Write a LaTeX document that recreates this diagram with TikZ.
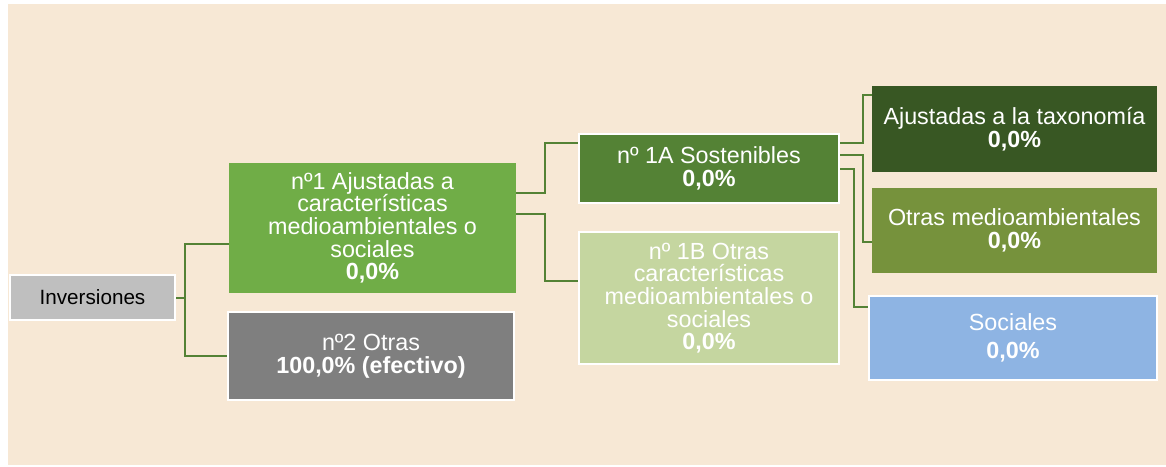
\documentclass[tikz,border=0pt]{standalone}
\usepackage{fontspec}
\setmainfont{Liberation Sans}
\usetikzlibrary{positioning, calc}
\definecolor{beige}{HTML}{F7E8D5}
\definecolor{greyinv}{HTML}{BFBFBF}
\definecolor{greenone}{HTML}{70AD47}
\definecolor{greytwo}{HTML}{7F7F7F}
\definecolor{greenA}{HTML}{548235}
\definecolor{greenB}{HTML}{C5D6A0}
\definecolor{greentax}{HTML}{385723}
\definecolor{greenenv}{HTML}{76923C}
\definecolor{bluesoc}{HTML}{8EB4E3}
\definecolor{linkgreen}{HTML}{548235}

\begin{document}
\begin{tikzpicture}[x=0.75pt, y=-0.75pt, font=\fontsize{17.5}{17}\selectfont]
    \tikzstyle{box} = [rectangle, inner sep=0pt, align=center, text centered, text=white]
    \tikzstyle{framed} = [box, draw=white, line width=1.5pt]
    \tikzstyle{link} = [draw=linkgreen, line width=1.5pt]
    \fill[white] (0,0) rectangle (1166,467);
    \fill[beige] (8,4) rectangle (1166,465);
    \useasboundingbox (0,0) rectangle (1166,467);
    \node (inv) [framed, fill=greyinv, text=black, minimum width=123.75pt, minimum height=33.75pt, font=\fontsize{15.5}{17}\selectfont] at (92.5,297.5) {Inversiones};
    \node (n1) [box, fill=greenone, minimum width=215.25pt, minimum height=97.5pt] at (372.5,228) {nº1 Ajustadas a\\características\\medioambientales o\\sociales\\\textbf{0,0\%}};
    \node (n2) [framed, fill=greytwo, minimum width=214.5pt, minimum height=66pt] at (371,356) {nº2 Otras\\\textbf{100,0\% (efectivo)}};
    \node (n1A) [framed, fill=greenA, minimum width=195pt, minimum height=51.75pt] at (709,168.5) {nº 1A Sostenibles\\\textbf{0,0\%}};
    \node (n1B) [framed, fill=greenB, minimum width=195pt, minimum height=99pt] at (709,298) {nº 1B Otras\\características\\medioambientales o\\sociales\\\textbf{0,0\%}};
    \node (tax) [box, fill=greentax, minimum width=213.75pt, minimum height=64.5pt] at (1014.5,129) {Ajustadas a la taxonomía\\\textbf{0,0\%}};
    \node (env) [box, fill=greenenv, minimum width=213.75pt, minimum height=63.75pt] at (1014.5,230.5) {Otras medioambientales\\\textbf{0,0\%}};
    \node (soc) [framed, fill=bluesoc, minimum width=216pt, minimum height=63pt] at (1013,338) {Sociales\\[4pt]\textbf{0,0\%}};
    % tree connectors
    \draw [link] (inv.east) -- ++(9,0) coordinate (j0) |- ([yshift=-12pt]n1.west);
    \draw [link] (j0) |- (n2.west);
    \draw [link] ([yshift=26pt]n1.east) -- ++(29,0) |- ([yshift=19pt]n1A.west);
    \draw [link] ([yshift=10.5pt]n1.east) -- ++(29,0) |- ([yshift=12.75pt]n1B.west);
    \draw [link] ([yshift=19pt]n1A.east) -- ++(23,0) |- ([yshift=25.5pt]tax.west);
    \draw [link] ([yshift=10pt]n1A.east) -- ++(23,0) |- ([yshift=-8.5pt]env.west);
    \draw [link] (n1A.east) -- ++(14,0) |- ([yshift=23pt]soc.west);
  \end{tikzpicture}
\end{document}
